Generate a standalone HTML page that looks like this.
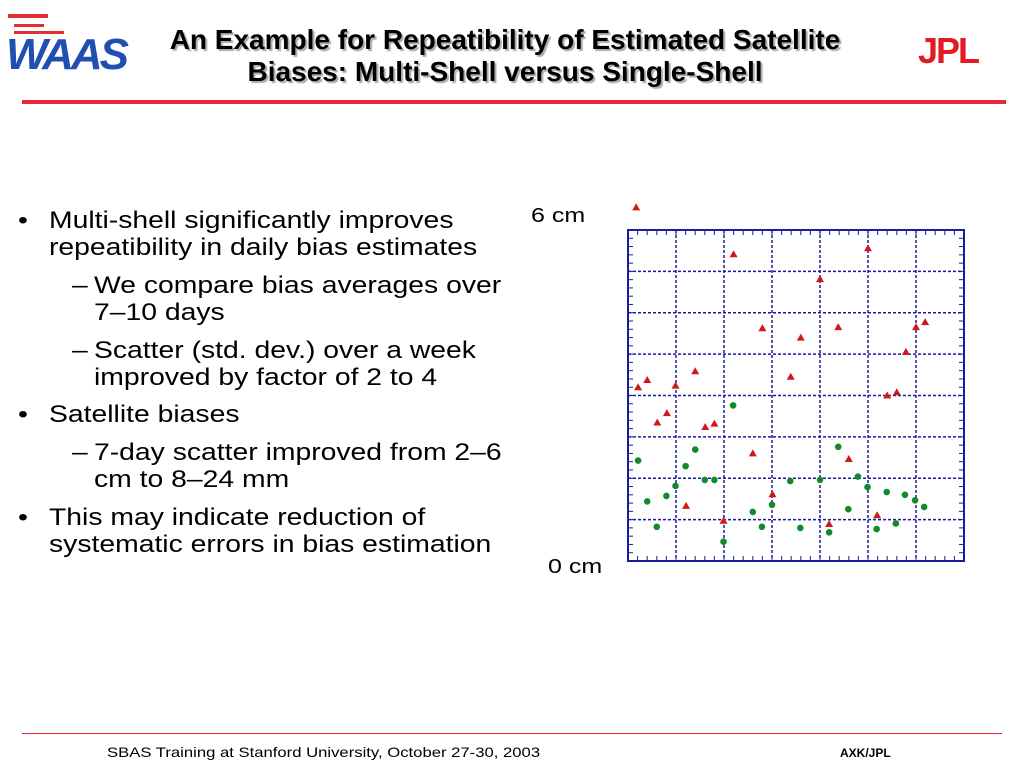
<!DOCTYPE html>
<html><head><meta charset="utf-8">
<style>
body{margin:0;width:1024px;height:768px;background:#fff;position:relative;overflow:hidden;font-family:"Liberation Sans",Arial,sans-serif}
.t{position:absolute;white-space:nowrap}
.title{left:0;width:1010px;text-align:center;font-family:"Liberation Sans Narrow","Liberation Sans",sans-serif;font-weight:bold;font-size:28px;color:#000;text-shadow:2px 2px 1px #aaa;line-height:32px}
.b{font-size:24px;color:#000;line-height:27px;transform:scaleX(1.18);transform-origin:0 0}
</style></head><body>
<div style="position:absolute;left:4px;top:14px;width:160px;height:66px">
 <div style="position:absolute;left:4px;top:0;width:40px;height:4px;background:#e03030"></div>
 <div style="position:absolute;left:10px;top:10px;width:30px;height:3px;background:#e03030"></div>
 <div style="position:absolute;left:10px;top:17px;width:50px;height:3px;background:#e03030"></div>
 <div class="t" style="left:2px;top:16px;font:italic bold 44px 'Liberation Sans',sans-serif;color:#1f4fb0;letter-spacing:-3px">WAAS</div>
</div>
<div class="t title" style="top:24px">An Example for Repeatibility of Estimated Satellite<br>Biases: Multi-Shell versus Single-Shell</div>
<div class="t" style="left:918px;top:30px;font:bold 36px 'Liberation Sans',sans-serif;color:#e21b22;letter-spacing:-2px">JPL</div>
<div style="position:absolute;left:22px;top:100px;width:984px;height:4px;background:#e8283a"></div>

<div>
<div class="t b" style="left:18px;top:207px">•</div>
<div class="t b" style="left:49px;top:207px">Multi-shell significantly improves<br>repeatibility in daily bias estimates</div>
<div class="t b" style="left:72px;top:272px">–</div>
<div class="t b" style="left:94px;top:272px">We compare bias averages over<br>7–10 days</div>
<div class="t b" style="left:72px;top:337px">–</div>
<div class="t b" style="left:94px;top:337px">Scatter (std. dev.) over a week<br>improved by factor of 2 to 4</div>
<div class="t b" style="left:18px;top:401px">•</div>
<div class="t b" style="left:49px;top:401px">Satellite biases</div>
<div class="t b" style="left:72px;top:439px">–</div>
<div class="t b" style="left:94px;top:439px">7-day scatter improved from 2–6<br>cm to 8–24 mm</div>
<div class="t b" style="left:18px;top:504px">•</div>
<div class="t b" style="left:49px;top:504px">This may indicate reduction of<br>systematic errors in bias estimation</div>
</div>

<div class="t" style="left:531px;top:205px;font-size:20px;transform:scaleX(1.25);transform-origin:0 0">6 cm</div>
<div class="t" style="left:548px;top:556px;font-size:20px;transform:scaleX(1.25);transform-origin:0 0">0 cm</div>

<svg id="chart" style="position:absolute;left:0;top:0" width="1024" height="768"></svg>

<div style="position:absolute;left:22px;top:733px;width:980px;height:1px;background:#e8283a"></div>
<div class="t" style="left:107px;top:744px;font-size:14px;transform:scaleX(1.19);transform-origin:0 0">SBAS Training at Stanford University, October 27-30, 2003</div>
<div class="t" style="left:840px;top:746px;font-size:12px;font-weight:bold">AXK/JPL</div>

<script>
const redX=[0.17,2.20,5.00,4.00,2.80,3.60,4.38,6.00,6.19,5.79,0.21,0.40,0.99,1.40,3.39,5.40,5.60,0.81,0.61,1.61,1.80,2.60,4.60,3.01,1.21,1.99,5.19,4.19];
const redY=[6.41,5.56,5.67,5.11,4.22,4.05,4.24,4.24,4.33,3.79,3.15,3.28,3.18,3.44,3.34,3.00,3.06,2.68,2.51,2.43,2.49,1.95,1.85,1.21,1.00,0.73,0.83,0.67];
const greenX=[2.19,0.21,1.40,1.20,1.60,1.80,0.99,0.40,0.80,0.60,1.99,2.60,2.79,3.00,3.38,3.59,4.00,4.38,4.79,4.99,4.59,4.19,5.18,5.39,5.58,5.77,5.98,6.17];
const greenY=[2.82,1.82,2.02,1.72,1.47,1.47,1.36,1.08,1.18,0.62,0.35,0.89,0.62,1.02,1.45,0.60,1.47,2.07,1.53,1.34,0.94,0.52,0.58,1.25,0.68,1.20,1.10,0.98];
const xMin=0,xMax=7,yMin=0,yMax=6;
const L=628,R=964,T=230,B=561;
const sx=v=>L+(v-xMin)/(xMax-xMin)*(R-L);
const sy=v=>B-(v-yMin)/(yMax-yMin)*(B-T);
const svg=document.getElementById('chart');
const NS='http://www.w3.org/2000/svg';
function mk(tag,attrs){const e=document.createElementNS(NS,tag);for(const k in attrs)e.setAttribute(k,attrs[k]);svg.appendChild(e);return e;}
const blue='#1a1aa0';
for(let i=1;i<7;i++){const g=mk('line',{x1:sx(i),x2:sx(i),y1:T,y2:B,stroke:blue,'stroke-width':1.5,'stroke-dasharray':'3,2'});

}
for(let i=1;i<8;i++){const y=B-i*(B-T)/8;const g=mk('line',{x1:L,x2:R,y1:y,y2:y,stroke:blue,'stroke-width':1.5,'stroke-dasharray':'3,2'});

}
for(let i=0;i<=40;i++){const y=T+i*(B-T)/40;mk('line',{x1:L,x2:L+5,y1:y,y2:y,stroke:blue,'stroke-width':1});mk('line',{x1:R,x2:R-5,y1:y,y2:y,stroke:blue,'stroke-width':1});}
for(let i=0;i<=35;i++){const x=L+i*(R-L)/35;mk('line',{x1:x,x2:x,y1:T,y2:T+5,stroke:blue,'stroke-width':1});mk('line',{x1:x,x2:x,y1:B,y2:B-5,stroke:blue,'stroke-width':1});}
const fr=mk('rect',{x:L,y:T,width:R-L,height:B-T,fill:'none',stroke:blue,'stroke-width':2});


redX.forEach((v,i)=>{const x=sx(v),y=sy(redY[i]);
const p=mk('polygon',{points:`${x},${y-4} ${x-4},${y+3} ${x+4},${y+3}`,fill:'#d01818'});

});
greenX.forEach((v,i)=>{const c=mk('circle',{cx:sx(v),cy:sy(greenY[i]),r:3.3,fill:'#138a2a'});

});
</script>
</body></html>
